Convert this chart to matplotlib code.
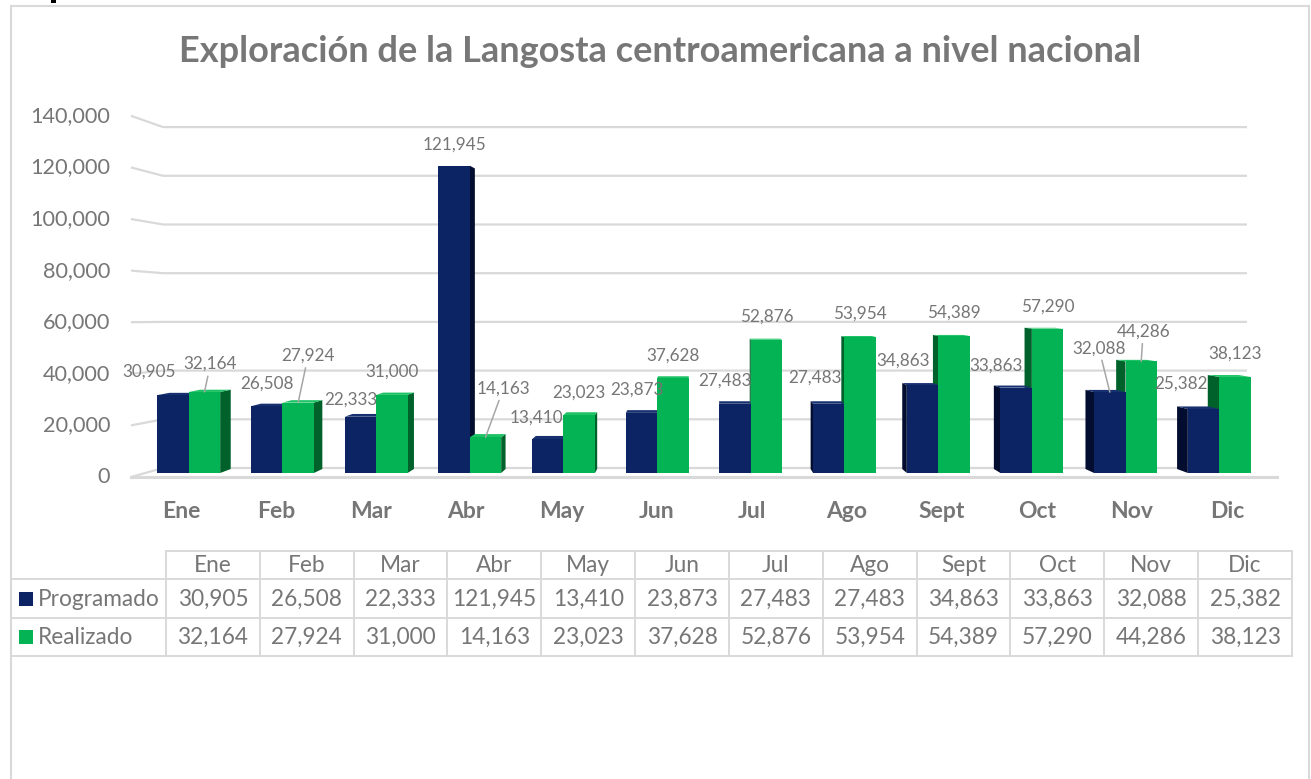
import matplotlib.pyplot as plt
from matplotlib.patches import Polygon, Rectangle
from matplotlib.lines import Line2D

plt.rcParams['font.family'] = ['Lato', 'DejaVu Sans']

# data
months = ["Ene", "Feb", "Mar", "Abr", "May", "Jun", "Jul", "Ago", "Sept", "Oct", "Nov", "Dic"]
programado = [30905, 26508, 22333, 121945, 13410, 23873, 27483, 27483, 34863, 33863, 32088, 25382]
realizado = [32164, 27924, 31000, 14163, 23023, 37628, 52876, 53954, 54389, 57290, 44286, 38123]
y_ticks = [0, 20000, 40000, 60000, 80000, 100000, 120000, 140000]
series_names = ["Programado", "Realizado"]
title = "Exploración de la Langosta centroamericana a nivel nacional"

# label placement (pixels from bar top centre) and which labels get a leader line
prog_offsets = [(-24, 23), (0, 23), (-10, 17), (0, 21), (-11, 22), (-5, 23),
                (-10, 23), (-14, 26), (-19, 25), (-20, 22), (-11, 44), (-23, 25)]
real_offsets = [(6, 28), (10, 47), (0, 23), (18, 49), (0, 22), (0, 23),
                (0, 23), (0, 23), (0, 23), (0, 22), (2, 30), (0, 23)]
prog_leader = [False] * 10 + [True, False]
real_leader = [True, True, False, True] + [False] * 6 + [True, False]

BLUE, BLUE_SIDE, BLUE_TOP = "#0c2463", "#030d30", "#163070"
GREEN, GREEN_SIDE, GREEN_TOP = "#04b353", "#00612a", "#1cc263"
GRID = "#d9d9d9"
TEXT = "#767676"

W, H = 1311, 779
fig = plt.figure(figsize=(W / 100, H / 100), dpi=100)


def fx(x):
    return x / W


def fy(y):
    return 1 - y / H


# axes placed so that category i sits at px 181 + 95.1*i and value 0 at px 473
L, R, T, B = 100, 1290, 60, 490
PX_X, PX_Y = 95.1, 0.00252
ax = fig.add_axes([fx(L), fy(B), (R - L) / W, (B - T) / H])
ax.set_xlim((L - 181) / PX_X, (R - 181) / PX_X)
ax.set_ylim((473 - B) / PX_Y, (473 - T) / PX_Y)
ax.set_frame_on(False)
ax.set_yticks([])
ax.set_xticks(range(len(months)), months, fontsize=16.5, fontweight="bold", color=TEXT)
ax.tick_params(axis="x", length=0, pad=8)

# simple perspective: back of the boxes drifts towards a vanishing point
VX, VY, K = 5.457, 72222, 0.022
SHIFT, BW = 0.015, 0.33


def back(x, y):
    return x + K * (VX - x), y + K * (VY - y)


# walls / gridlines
x_front, x_wall, x_end, x_floor = -0.526, -0.189, 11.209, 11.525
for v in y_ticks:
    yb = 1984 + 0.9663 * v
    yf = -1587 + 1.0238 * v
    ax.plot([x_front, x_wall, x_end], [yf, yb, yb], color=GRID, lw=1.6, zorder=1,
            solid_capstyle="butt")
    ax.text((110 - 181) / PX_X, yf, f"{v:,}", ha="right", va="center",
            fontsize=15.6, color=TEXT)
ax.plot([x_front, x_floor], [-1587, -1587], color=GRID, lw=2.2, zorder=1)


def draw_faces(xl, xr, v, side_c, top_c, z):
    edge = xr if (xl + xr) / 2 < VX else xl
    bx0, by0 = back(edge, 0)
    bx1, by1 = back(edge, v)
    ax.add_patch(Polygon([(edge, 0), (edge, v), (bx1, by1), (bx0, by0)],
                         closed=True, fc=side_c, ec="none", zorder=z))
    if v < VY:
        tl = back(xl, v)
        tr = back(xr, v)
        ax.add_patch(Polygon([(xl, v), (xr, v), tr, tl], closed=True,
                             fc=top_c, ec="none", zorder=z))


centers = [i + SHIFT * (VX - i) for i in range(len(months))]
for i, c in enumerate(centers):
    left_side = c < VX
    zb, zg = (2.0, 2.5) if left_side else (2.5, 2.0)
    draw_faces(c - BW, c, programado[i], BLUE_SIDE, BLUE_TOP, zb)
    draw_faces(c, c + BW, realizado[i], GREEN_SIDE, GREEN_TOP, zg)

xb = [c - BW / 2 for c in centers]
xg = [c + BW / 2 for c in centers]
ax.bar(xb, programado, width=BW, color=BLUE, zorder=3)
ax.bar(xg, realizado, width=BW, color=GREEN, zorder=3)

for xs, vals, offs, leads in [(xb, programado, prog_offsets, prog_leader),
                              (xg, realizado, real_offsets, real_leader)]:
    for x, v, (dx, dy), lead in zip(xs, vals, offs, leads):
        props = dict(arrowstyle="-", color="#a6a6a6", lw=1.1, shrinkA=1, shrinkB=0) if lead else None
        ax.annotate(f"{v:,}", xy=(x, v), xytext=(dx, dy), textcoords="offset pixels",
                    ha="center", va="center", fontsize=12.3, color=TEXT,
                    arrowprops=props, zorder=5)

# title
fig.text(fx(660), fy(51), title, ha="center", va="center", fontsize=26,
         fontweight="bold", color="#777777")

# data table below the chart
cols = [166 + 93.83 * j for j in range(len(months) + 1)]
rows = [551, 579, 618, 656]


def seg(x0, y0, x1, y1, lw=1.4):
    fig.add_artist(Line2D([fx(x0), fx(x1)], [fy(y0), fy(y1)], color=GRID, lw=lw,
                          transform=fig.transFigure))


seg(cols[0], rows[0], cols[-1], rows[0])
for y in rows[1:]:
    seg(11, y, cols[-1], y)
for x in cols:
    seg(x, rows[0], x, rows[-1])

TFS = 16.3
for j, m in enumerate(months):
    cx = (cols[j] + cols[j + 1]) / 2
    fig.text(fx(cx), fy(566), m, ha="center", va="center", fontsize=TFS, color=TEXT)
    fig.text(fx(cx), fy(599), f"{programado[j]:,}", ha="center", va="center",
             fontsize=TFS, color=TEXT)
    fig.text(fx(cx), fy(637), f"{realizado[j]:,}", ha="center", va="center",
             fontsize=TFS, color=TEXT)

for name, color, yc in [(series_names[0], BLUE, 599), (series_names[1], GREEN, 637)]:
    fig.add_artist(Rectangle((fx(19), fy(yc + 7)), 14 / W, 14 / H, fc=color, ec="none",
                             transform=fig.transFigure))
    fig.text(fx(38), fy(yc), name, ha="left", va="center", fontsize=TFS, color=TEXT)

# chart frame
fig.add_artist(Rectangle((fx(11), fy(800)), (1309 - 11) / W, (800 - 6) / H, fc="none",
                         ec=GRID, lw=1.5, transform=fig.transFigure))
fig.add_artist(Rectangle((fx(51), fy(3)), 5 / W, 3 / H, fc="black", ec="none",
                         transform=fig.transFigure))

fig.savefig("out.png", dpi=100)
